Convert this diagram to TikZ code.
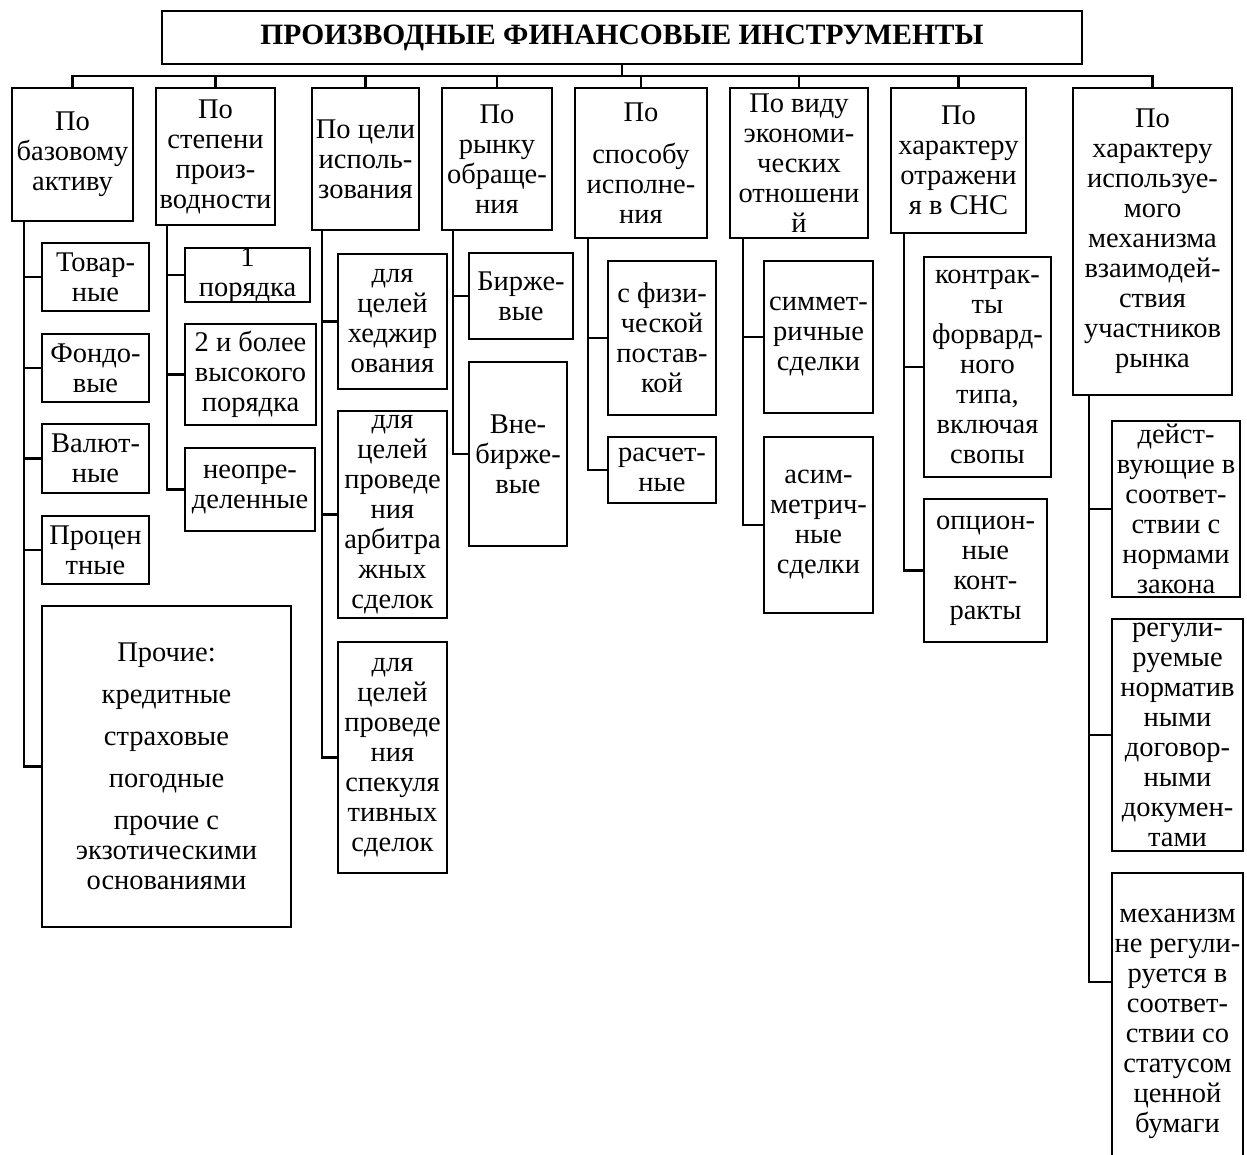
\documentclass[tikz,border=0pt]{standalone}
\usepackage{fontspec}
\setmainfont{Liberation Serif}
\newcommand\boxfont{\fontsize{28.5}{30}\selectfont}
\newcommand\bx[6]{\node[box] (#1) at ({(#2+#4)/2},{(#3+#5)/2}) {\parbox[c][\dimexpr#5pt-#3pt\relax][c]{\dimexpr#4pt-#2pt\relax}{\centering\boxfont #6}};}
\tikzset{
  box/.style={draw, line width=2.2pt, inner sep=0pt, outer sep=0pt, fill=white},
  conn/.style={line width=2.2pt}
}
\begin{document}
\begin{tikzpicture}[x=1pt,y=-1pt]
\path[use as bounding box] (0,0) rectangle (1247,1155);
\clip (0,0) rectangle (1247,1155);
\fill[white] (0,0) rectangle (1247,1155);
\coordinate (bus) at (622,76);
% title
\bx{t}{162}{11}{1082}{64}{\fontsize{29.5}{32}\selectfont\textbf{ПРОИЗВОДНЫЕ ФИНАНСОВЫЕ ИНСТРУМЕНТЫ}}
% level 1
\bx{b1}{12}{88}{133}{221}{По\\базовому\\активу}
\bx{b2}{156}{88}{275}{225}{По\\степени\\произ-\\водности}
\bx{b3}{312}{88}{419}{230}{По цели\\исполь-\\зования}
\bx{b4}{442}{88}{552}{230}{По\\рынку\\обраще-\\ния}
\bx{b5}{575}{88}{707}{238}{По\\[12pt]способу\\исполне-\\ния}
\bx{b6}{730}{88}{868}{238}{По виду\\экономи-\\ческих\\отношени\\й}
\bx{b7}{891}{88}{1026}{233}{По\\характеру\\отражени\\я в СНС}
\bx{b8}{1073}{88}{1232}{395}{По\\характеру\\используе-\\мого\\механизма\\взаимодей-\\ствия\\участников\\рынка}
% column 1
\bx{c11}{42}{243}{149}{311}{Товар-\\ные}
\bx{c12}{42}{334}{149}{402}{Фондо-\\вые}
\bx{c13}{42}{424}{149}{493}{Валют-\\ные}
\bx{c14}{42}{516}{149}{584}{Процен\\тные}
\bx{c15}{42}{606}{291}{927}{Прочие:\\[12pt]кредитные\\[12pt]страховые\\[12pt]погодные\\[12pt]прочие с\\экзотическими\\основаниями}
% column 2
\bx{c21}{185}{248}{310}{302}{1\\порядка}
\bx{c22}{185}{324}{316}{425}{2 и более\\высокого\\порядка}
\bx{c23}{185}{448}{315}{531}{неопре-\\деленные}
% column 3
\bx{c31}{338}{254}{447}{389}{для\\целей\\хеджир\\ования}
\bx{c32}{338}{411}{447}{618}{для\\целей\\проведе\\ния\\арбитра\\жных\\сделок}
\bx{c33}{338}{642}{447}{873}{для\\целей\\проведе\\ния\\спекуля\\тивных\\сделок}
% column 4
\bx{c41}{469}{253}{573}{339}{Бирже-\\вые}
\bx{c42}{469}{362}{567}{546}{Вне-\\бирже-\\вые}
% column 5
\bx{c51}{608}{261}{716}{415}{с физи-\\ческой\\постав-\\кой}
\bx{c52}{608}{437}{716}{503}{расчет-\\ные}
% column 6
\bx{c61}{764}{261}{873}{413}{симмет-\\ричные\\сделки}
\bx{c62}{764}{437}{873}{613}{асим-\\метрич-\\ные\\сделки}
% column 7
\bx{c71}{924}{257}{1051}{477}{контрак-\\ты\\форвард-\\ного\\типа,\\включая\\свопы}
\bx{c72}{924}{499}{1047}{642}{опцион-\\ные\\конт-\\ракты}
% column 8
\bx{c81}{1112}{421}{1240}{597}{дейст-\\вующие в\\соответ-\\ствии с\\нормами\\закона}
\bx{c82}{1112}{619}{1243}{851}{регули-\\руемые\\норматив\\ными\\договор-\\ными\\докумен-\\тами}
\bx{c83}{1112}{873}{1243}{1175}{механизм\\не регули-\\руется в\\соответ-\\ствии со\\статусом\\ценной\\бумаги}
% bus
\draw[conn] (t.south) -- (bus);
\foreach \b in {b1,b2,b3,b4,b5,b6,b7,b8}{\draw[conn] (\b.north) |- (bus);}
% stems
\foreach \c in {c11,c12,c13,c14,c15}{\draw[conn] ([xshift=12pt]b1.south west) |- (\c.west);}
\foreach \c in {c21,c22,c23}{\draw[conn] ([xshift=11pt]b2.south west) |- (\c.west);}
\foreach \c in {c31,c32,c33}{\draw[conn] ([xshift=10pt]b3.south west) |- (\c.west);}
\foreach \c in {c41,c42}{\draw[conn] ([xshift=11pt]b4.south west) |- (\c.west);}
\foreach \c in {c51,c52}{\draw[conn] ([xshift=13pt]b5.south west) |- (\c.west);}
\foreach \c in {c61,c62}{\draw[conn] ([xshift=13pt]b6.south west) |- (\c.west);}
\foreach \c in {c71,c72}{\draw[conn] ([xshift=13pt]b7.south west) |- (\c.west);}
\foreach \c in {c81,c82}{\draw[conn] ([xshift=16pt]b8.south west) |- (\c.west);}
\draw[conn] ([xshift=16pt]b8.south west) |- ([yshift=-109pt]c83.north west);
\end{tikzpicture}
\end{document}
